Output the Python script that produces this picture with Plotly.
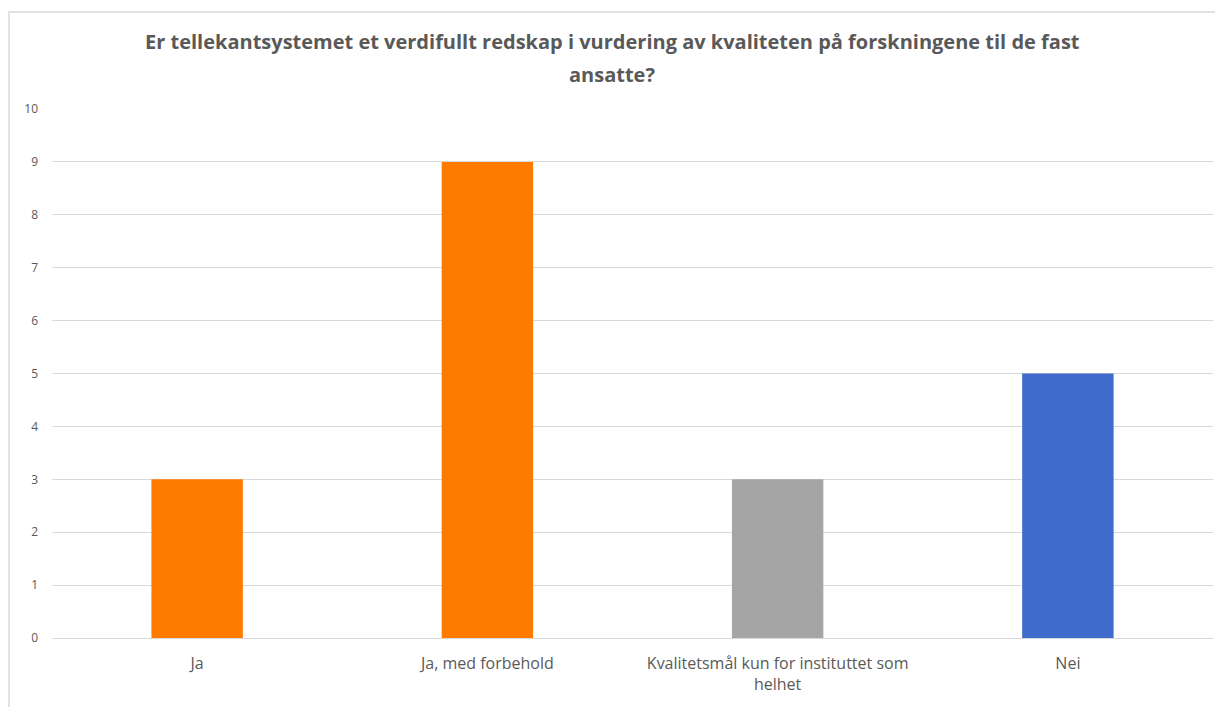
import plotly.graph_objects as go

categories = ["Ja", "Ja, med forbehold", "Kvalitetsmål kun for instituttet som<br>helhet", "Nei"]
values = [3, 9, 3, 5]
colors = ["#FF7B00", "#FF7B00", "#A5A5A5", "#3F6BCC"]
title_lines = ["Er tellekantsystemet et verdifullt redskap i vurdering av kvaliteten på forskningene til de fast",
               "ansatte?"]

fig = go.Figure()
fig.add_trace(go.Bar(x=categories, y=values, marker=dict(color=colors, line=dict(width=0)), width=0.315))

# page has an 8px body offset
W, H = 1215, 699
ml, mr, mt, mb = 44, 10, 101, 69
pw = W - ml - mr
ph = H - mt - mb

fig.update_layout(
    width=W, height=H,
    margin=dict(l=ml, r=mr, t=mt, b=mb),
    paper_bgcolor="white", plot_bgcolor="white",
    showlegend=False,
    font=dict(family="Open Sans, sans-serif", color="#595959"),
)
for i, (txt, ypx) in enumerate(zip(title_lines, [34, 66])):
    fig.add_annotation(text="<b>" + txt + "</b>", xref="paper", yref="paper",
                       x=(612 - 8 - ml) / pw, y=(H - mb - ypx) / ph, xanchor="center", yanchor="middle",
                       showarrow=False, font=dict(size=20, color="#595959", family="Open Sans, sans-serif"))

fig.update_yaxes(range=[0, 10], dtick=1, showgrid=True, gridcolor="#D9D9D9", gridwidth=1,
                 zeroline=False, showline=False, ticks="", ticklabelstandoff=13,
                 tickfont=dict(size=12, color="#595959", family="Open Sans, sans-serif"))
fig.update_xaxes(showline=True, linecolor="#D9D9D9", linewidth=1, ticks="",
                 tickfont=dict(size=16, color="#595959"), ticklabelstandoff=11)

# chart frame border (left and top visible)
fig.add_shape(type="rect", xref="paper", yref="paper",
              x0=(1 - ml) / pw, x1=(W + 20 - ml) / pw,
              y0=-(H + 20 - mt - ph) / ph, y1=(H - mb - 4) / ph,
              line=dict(color="#D9D9D9", width=1.5), fillcolor="rgba(0,0,0,0)", layer="below")

fig.write_html("out.html")
